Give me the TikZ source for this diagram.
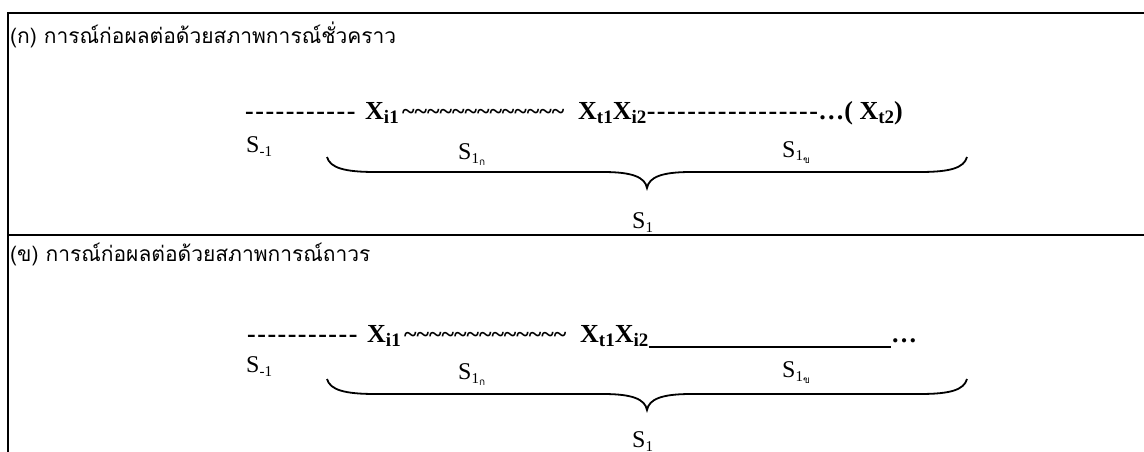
\documentclass[tikz,border=0pt]{standalone}
\usepackage{fontspec}
\setmainfont{Liberation Serif}
\newfontfamily\thaifont[Script=Thai]{Loma}
\newcommand\bsub[1]{\raisebox{-4pt}{\fontsize{19}{19}\selectfont #1}}
\newcommand\ssub[1]{\raisebox{-4pt}{\fontsize{15}{15}\selectfont #1}}
\newcommand\tsub[1]{\raisebox{-6pt}{\fontsize{10}{10}\selectfont\thaifont #1}}
\newcommand\tl{\textasciitilde}
\newcommand\tls{\tl\tl\tl\tl\tl\tl\tl\tl\tl\tl\tl\tl\tl}
\newcommand\hk{-\kern1.5pt}
\begin{document}
\begin{tikzpicture}[x=1pt,y=-1pt,
  frame/.style={line width=2.2pt},
  title/.style={anchor=west,inner sep=0pt,font=\thaifont\fontsize{21}{21}\selectfont},
  seq/.style={anchor=base west,inner sep=0pt,font=\bfseries\fontsize{26}{26}\selectfont},
  wave/.style={seq,font=\bfseries\fontsize{24}{24}\selectfont},
  lab/.style={anchor=base west,inner sep=0pt,font=\fontsize{24}{24}\selectfont},
  brace/.style={line width=1.8pt}]
\useasboundingbox (0,0) rectangle (1144,452);
\fill[white] (0,0) rectangle (1144,452);
% frame
\coordinate (tl) at (8,13);
\coordinate (tr) at (1150,13);
\coordinate (bl) at (8,460);
\coordinate (ml) at (8,235);
\coordinate (mr) at (1150,235);
\draw[frame] (tr) -- (tl) -- (bl);
\draw[frame] (ml) -- (mr);
% section 1
\node[title] (t1) at (10,35) {(ก) การณ์ก่อผลต่อด้วยสภาพการณ์ชั่วคราว};
\node[seq] (d1) at (245,120) {\hk\hk\hk\hk\hk\hk\hk\hk\hk\hk-};
\node[seq] (xi1) at (365,120) {X\bsub{i1}};
\node[wave] (w1) at ([xshift=3pt]xi1.base east) {\tls};
\node[seq] (xt1) at (578,120) {X\bsub{t1}X\bsub{i2}};
\node[seq] (e1) at (xt1.base east) {\hk\hk\hk\hk\hk\hk\hk\hk\hk\hk\hk\hk\hk\hk\hk\hk-};
\node[seq] (f1) at (e1.base east) {\ldots( X\bsub{t2})};
\node[lab] (sm1) at (246,152) {S\ssub{-1}};
\node[lab] (sa1) at (458,159) {S\ssub{1}\tsub{ก}};
\node[lab] (sb1) at (782,157) {S\ssub{1}\tsub{ข}};
\node[lab] (s1) at (632,228) {S\ssub{1}};
\draw[brace] (327,157) .. controls (330,168) and (345,172) .. (375,172) -- (603,172)
  .. controls (632,172) and (645,177) .. (647,188)
  .. controls (649,177) and (662,172) .. (691,172) -- (920,172)
  .. controls (950,172) and (964,168) .. (967,157);
% section 2
\node[title] (t2) at (10,255) {(ข) การณ์ก่อผลต่อด้วยสภาพการณ์ถาวร};
\begin{scope}[shift={(0,222)}]
\node[seq] (d2) at (247,120) {\hk\hk\hk\hk\hk\hk\hk\hk\hk\hk-};
\node[seq] (xi2) at (367,120) {X\bsub{i1}};
\node[wave] (w2) at ([xshift=3pt]xi2.base east) {\tls};
\node[seq] (xt2) at (580,120) {X\bsub{t1}X\bsub{i2}};
\coordinate (u2) at (891,125);
\draw[line width=1.8pt] ([yshift=-5pt]xt2.base east) -- (u2);
\node[seq] (f2) at (891,120) {\ldots};
\node[lab] (sm2) at (246,150) {S\ssub{-1}};
\node[lab] (sa2) at (458,157) {S\ssub{1}\tsub{ก}};
\node[lab] (sb2) at (782,155) {S\ssub{1}\tsub{ข}};
\node[lab] (s2) at (632,225) {S\ssub{1}};
\draw[brace] (327,157) .. controls (330,168) and (345,172) .. (375,172) -- (603,172)
  .. controls (632,172) and (645,177) .. (647,188)
  .. controls (649,177) and (662,172) .. (691,172) -- (920,172)
  .. controls (950,172) and (964,168) .. (967,157);
\end{scope}
\end{tikzpicture}
\end{document}
